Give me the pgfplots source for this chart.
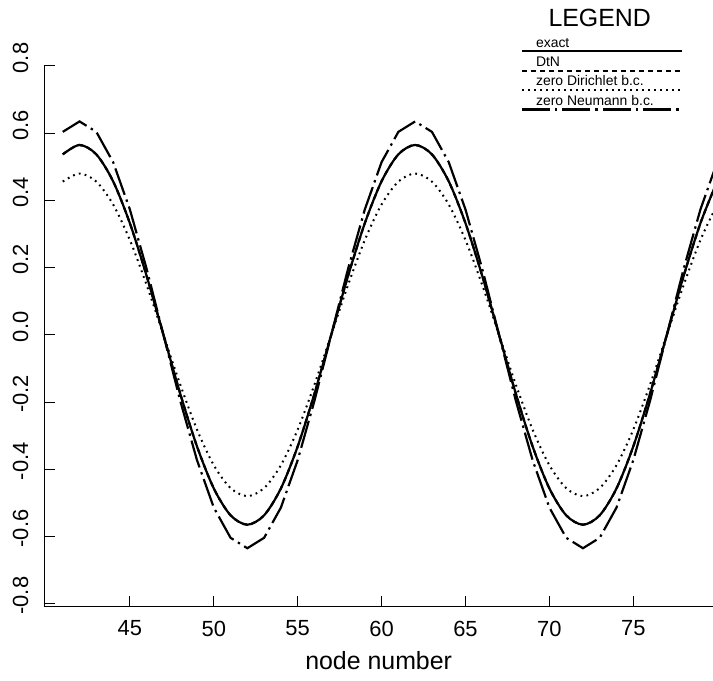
\documentclass[border=0pt]{standalone}
\usepackage{fontspec}
\setmainfont{Liberation Sans}
\usepackage{pgfplots}
\usepackage{pgfplotstable}
\pgfplotsset{compat=1.18}
\pgfplotstableread{
x exact dir neu
41 0.537 0.456 0.604
42 0.565 0.480 0.635
43 0.537 0.456 0.604
44 0.457 0.388 0.514
45 0.332 0.282 0.373
46 0.175 0.148 0.196
47 0.000 0.000 0.000
48 -0.175 -0.148 -0.196
49 -0.332 -0.282 -0.373
50 -0.457 -0.388 -0.514
51 -0.537 -0.456 -0.604
52 -0.565 -0.480 -0.635
53 -0.537 -0.456 -0.604
54 -0.457 -0.388 -0.514
55 -0.332 -0.282 -0.373
56 -0.175 -0.148 -0.196
57 0.000 0.000 0.000
58 0.175 0.148 0.196
59 0.332 0.282 0.373
60 0.457 0.388 0.514
61 0.537 0.456 0.604
62 0.565 0.480 0.635
63 0.537 0.456 0.604
64 0.457 0.388 0.514
65 0.332 0.282 0.373
66 0.175 0.148 0.196
67 0.000 0.000 0.000
68 -0.175 -0.148 -0.196
69 -0.332 -0.282 -0.373
70 -0.457 -0.388 -0.514
71 -0.537 -0.456 -0.604
72 -0.565 -0.480 -0.635
73 -0.537 -0.456 -0.604
74 -0.457 -0.388 -0.514
75 -0.332 -0.282 -0.373
76 -0.175 -0.148 -0.196
77 0.000 0.000 0.000
78 0.175 0.148 0.196
79 0.332 0.282 0.373
80 0.457 0.388 0.514
}\data

\begin{document}
\begin{tikzpicture}
\useasboundingbox (-22.15bp,-37.15bp) rectangle (334.35bp,303.35bp);
\begin{axis}[
  at={(0,0)}, anchor=south west, scale only axis,
  width=334.35bp, height=270.35bp,
  xmin=39.9, xmax=79.75, ymin=-0.809, ymax=0.8,
  axis x line*=bottom, axis y line*=left,
  axis line style={line width=0.6pt,-},
  xtick={45,50,55,60,65,70,75},
  xticklabels={45,50,55,60,65,70,75},
  ytick={-0.8,-0.6,-0.4,-0.2,0,0.2,0.4,0.6,0.8},
  yticklabels={-0.8,-0.6,-0.4,-0.2,0.0,0.2,0.4,0.6,0.8},
  tick align=inside, major tick length=5.5bp,
  tick style={line width=0.5pt,black},
  ticklabel style={font=\fontsize{11}{13}\selectfont},
  yticklabel style={yshift=4bp,rotate=90,anchor=south},
  yticklabel shift=4.5bp,
  xticklabel shift=3.5bp,
  xlabel={node number},
  xlabel style={font=\fontsize{12.5}{14}\selectfont, yshift=-1bp},
  clip mode=individual,
  legend cell align=left,
  legend image code/.code={\path[draw=none,fill=none] (0,0) rectangle (7bp,0bp); \draw[#1,overlay] (0bp,-4bp) -- (80bp,-4bp);},
  legend style={at={(axis cs:68.37,0.887)}, anchor=north west, draw=none, fill=none,
    inner sep=0pt, outer sep=0pt, font=\fontsize{7}{8}\selectfont, row sep=3.2bp,
    nodes={inner sep=0pt, text height=5.2bp, text depth=1.3bp}},
]
\addplot[black, line width=1.1pt, smooth] table[x=x,y=exact] {\data};
\addlegendentry{exact}
\addplot[black, line width=1.1pt, smooth, dash pattern=on 2.5bp off 2bp] table[x=x,y=exact] {\data};
\addlegendentry{DtN}
\addplot[black, line width=1pt, smooth, dash pattern=on 0.9bp off 2.1bp] table[x=x,y=dir] {\data};
\addlegendentry{zero Dirichlet b.c.}
\addplot[black, line width=1.1pt, dash pattern=on 14bp off 2.5bp on 1.2bp off 2.5bp] table[x=x,y=neu] {\data};
\addlegendentry{zero Neumann b.c.}
\node[font=\fontsize{12.5}{14}\selectfont] at (axis cs:73.0,0.943) {LEGEND};
\end{axis}
\end{tikzpicture}
\end{document}
